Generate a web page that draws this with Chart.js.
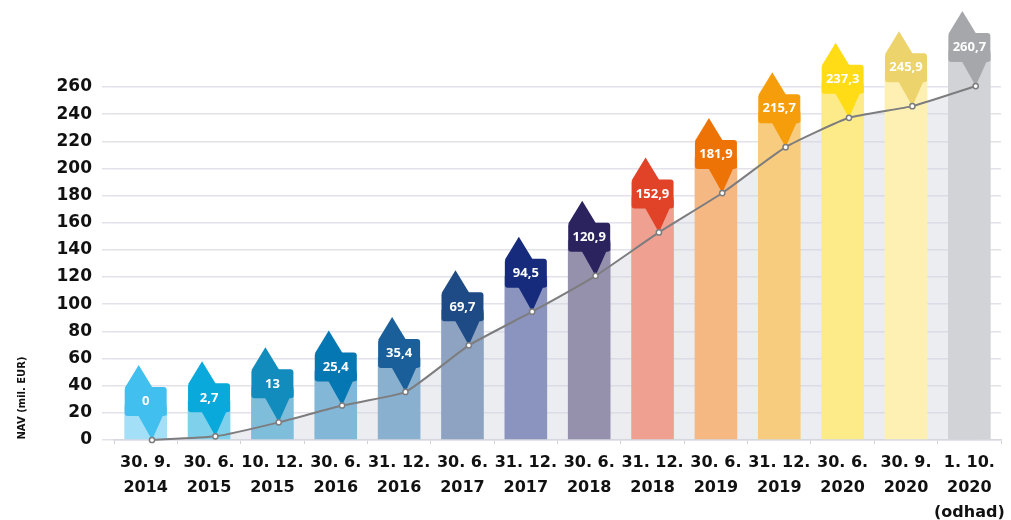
<!DOCTYPE html>
<html>
<head>
<meta charset="utf-8">
<script src="https://cdn.jsdelivr.net/npm/chart.js@4.4.1/dist/chart.umd.min.js"></script>
<style>
  html, body { margin: 0; padding: 0; background: #ffffff; }
  #wrap { width: 1011px; height: 520px; position: relative; }
</style>
</head>
<body>
<div id="wrap"><canvas id="c" width="1011" height="520"></canvas></div>
<script>
// ---- data ----
const categories = [
  ['30. 9.', '2014'], ['30. 6.', '2015'], ['10. 12.', '2015'], ['30. 6.', '2016'],
  ['31. 12.', '2016'], ['30. 6.', '2017'], ['31. 12.', '2017'], ['30. 6.', '2018'],
  ['31. 12.', '2018'], ['30. 6.', '2019'], ['31. 12.', '2019'], ['30. 6.', '2020'],
  ['30. 9.', '2020'], ['1. 10.', '2020', '(odhad)']
];
const navValues = [0, 2.7, 13, 25.4, 35.4, 69.7, 94.5, 120.9, 152.9, 181.9, 215.7, 237.3, 245.9, 260.7];
const barTops = [26, 29, 39, 51, 61, 96, 121, 147, 179, 208, 242, 263, 272, 287];
const valueLabels = ['0', '2,7', '13', '25,4', '35,4', '69,7', '94,5', '120,9', '152,9', '181,9', '215,7', '237,3', '245,9', '260,7'];
const yTicks = [0, 20, 40, 60, 80, 100, 120, 140, 160, 180, 200, 220, 240, 260];
const yTitle = 'NAV (mil. EUR)';

const markerColors = ['#41bfee', '#0aa9dc', '#128bbd', '#0577b2', '#1a5f99', '#1e4a85', '#172b7d', '#2a235e',
  '#e04328', '#ee7306', '#f59d0b', '#ffdc15', '#ecd36b', '#a6a7ab'];
const barColors = ['#a3dff7', '#7fd1eb', '#7fbedb', '#82b7d7', '#8ab0cf', '#8da3c1', '#8a94be', '#9590ac',
  '#efa091', '#f6b883', '#f8cc7e', '#fdeb89', '#fef0b3', '#d2d3d6'];

// ---- marker plugin ----
function roundRect(ctx, x, y, w, h, r) {
  ctx.moveTo(x + r, y);
  ctx.lineTo(x + w - r, y);
  ctx.quadraticCurveTo(x + w, y, x + w, y + r);
  ctx.lineTo(x + w, y + h - r);
  ctx.quadraticCurveTo(x + w, y + h, x + w - r, y + h);
  ctx.lineTo(x + r, y + h);
  ctx.quadraticCurveTo(x, y + h, x, y + h - r);
  ctx.lineTo(x, y + r);
  ctx.quadraticCurveTo(x, y, x + r, y);
  ctx.closePath();
}

const markerPlugin = {
  id: 'markers',
  beforeDatasetDraw(chart, args) {
    if (args.meta.type !== 'line') return;
    const barMeta = chart.getDatasetMeta(0);
    const lineMeta = args.meta;
    const ctx = chart.ctx;
    ctx.save();
    for (let i = 0; i < navValues.length; i++) {
      const cx = barMeta.data[i].x;
      const px = lineMeta.data[i].x;
      const py = lineMeta.data[i].y;
      ctx.fillStyle = markerColors[i];
      // top arrow
      ctx.beginPath();
      ctx.moveTo(cx - 21, py - 52);
      ctx.lineTo(cx - 7, py - 75);
      ctx.lineTo(cx + 7, py - 52);
      ctx.closePath();
      ctx.fill();
      // bottom arrow
      ctx.beginPath();
      ctx.moveTo(px - 14, py - 25);
      ctx.lineTo(px, py);
      ctx.lineTo(cx + 21, py - 33);
      ctx.lineTo(cx + 21, py - 25);
      ctx.closePath();
      ctx.fill();
      // box
      ctx.beginPath();
      roundRect(ctx, cx - 21, py - 53, 42, 29, 3);
      ctx.fill();
      // text
      ctx.fillStyle = '#ffffff';
      ctx.font = 'bold 13px "Open Sans"';
      ctx.textAlign = 'center';
      ctx.textBaseline = 'middle';
      ctx.fillText(valueLabels[i], cx, py - 38.5);
    }
    ctx.restore();
  },
  afterDraw(chart) {
    const ctx = chart.ctx;
    ctx.save();
    ctx.translate(22, 398);
    ctx.rotate(-Math.PI / 2);
    ctx.fillStyle = '#111111';
    ctx.font = 'bold 10px "DejaVu Sans"';
    ctx.textAlign = 'center';
    ctx.textBaseline = 'middle';
    ctx.fillText(yTitle, 0, 0);
    ctx.restore();
  }
};

const ctx = document.getElementById('c').getContext('2d');
new Chart(ctx, {
  data: {
    labels: categories,
    datasets: [
      {
        type: 'bar',
        data: barTops,
        backgroundColor: barColors,
        borderWidth: 0,
        grouped: false,
        barPercentage: 0.673,
        categoryPercentage: 1,
        clip: false,
        order: 2,
        xAxisID: 'x',
        yAxisID: 'y'
      },
      {
        type: 'line',
        data: navValues.map((v, i) => ({ x: i, y: v })),
        borderColor: '#7d7d7f',
        borderWidth: 2,
        tension: 0.15,
        fill: 'origin',
        backgroundColor: 'rgba(210,212,222,0.42)',
        pointRadius: 2.6,
        pointBackgroundColor: '#ffffff',
        pointBorderColor: '#7d7d7f',
        pointBorderWidth: 1.5,
        clip: false,
        order: 1,
        xAxisID: 'x2',
        yAxisID: 'y'
      }
    ]
  },
  options: {
    responsive: false,
    animation: false,
    layout: { padding: { top: 87, right: 8, left: 0, bottom: 0 } },
    plugins: {
      legend: { display: false },
      tooltip: { enabled: false },
      filler: { drawTime: 'beforeDatasetsDraw' }
    },
    scales: {
      x: {
        type: 'category',
        offset: true,
        afterFit: (s) => { s.height = 80; },
        grid: { display: true, drawOnChartArea: false, drawTicks: true, tickLength: 4, color: '#cfd0d8' },
        border: { display: true, color: '#d8d9e0', width: 1.5 },
        ticks: {
          color: '#111111',
          padding: 6,
          maxRotation: 0,
          autoSkip: false,
          font: { family: 'DejaVu Sans', weight: 'bold', size: 16, lineHeight: 1.56 }
        }
      },
      x2: {
        type: 'linear',
        display: false,
        offset: false,
        min: -0.6,
        max: 13.4
      },
      y: {
        min: 0,
        max: 260,
        afterFit: (s) => { s.width = 114; },
        afterBuildTicks: (s) => { s.ticks = yTicks.map(v => ({ value: v })); },
        grid: { color: '#e2e2ea', lineWidth: 1.5, drawTicks: true, tickLength: 12 },
        border: { display: false },
        ticks: {
          color: '#111111',
          padding: 10,
          font: { family: 'DejaVu Sans', weight: 'bold', size: 17 }
        }
      }
    }
  },
  plugins: [markerPlugin]
});
</script>
</body>
</html>
